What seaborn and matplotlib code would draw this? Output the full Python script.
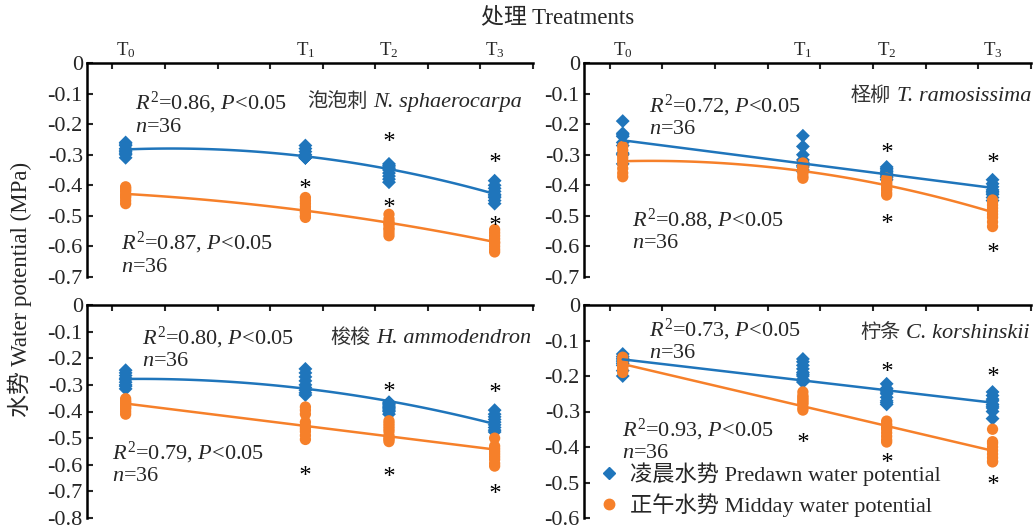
import numpy as np
import pandas as pd
import matplotlib
matplotlib.use('Agg')
import matplotlib.pyplot as plt
import seaborn as sns
from matplotlib.lines import Line2D
from matplotlib.ticker import FuncFormatter

sns.set_style('white')
plt.rcParams['font.family'] = ['Liberation Serif', 'Noto Sans CJK SC']
plt.rcParams['mathtext.fontset'] = 'custom'
plt.rcParams['mathtext.rm'] = 'Liberation Serif'
plt.rcParams['mathtext.it'] = 'Liberation Serif:italic'
plt.rcParams['mathtext.bf'] = 'Liberation Serif:bold'
plt.rcParams['axes.unicode_minus'] = False

BLUE = '#1f75bb'
ORANGE = '#f6802a'

# ---------------- data ----------------
TREATMENTS = ['T$_0$', 'T$_1$', 'T$_2$', 'T$_3$']
TREAT_X = [0.25, 3.67, 5.26, 7.27]

# N. sphaerocarpa
ns_predawn = [
    [-0.26, -0.265, -0.27, -0.28, -0.285, -0.29, -0.295, -0.30, -0.31],
    [-0.27, -0.28, -0.29, -0.30, -0.305, -0.31, -0.31, -0.31, -0.31],
    [-0.33, -0.335, -0.34, -0.345, -0.35, -0.36, -0.37, -0.38, -0.39],
    [-0.385, -0.40, -0.41, -0.42, -0.43, -0.435, -0.44, -0.45, -0.46],
]
ns_midday = [
    [-0.405, -0.41, -0.415, -0.42, -0.43, -0.435, -0.44, -0.45, -0.46],
    [-0.44, -0.45, -0.46, -0.47, -0.48, -0.485, -0.49, -0.50, -0.505],
    [-0.495, -0.51, -0.52, -0.525, -0.53, -0.54, -0.545, -0.555, -0.565],
    [-0.545, -0.555, -0.565, -0.575, -0.585, -0.59, -0.60, -0.61, -0.618],
]
# T. ramosissima
tr_predawn = [
    [-0.19, -0.23, -0.235, -0.24, -0.26, -0.27, -0.295, -0.30, -0.33],
    [-0.238, -0.273, -0.30, -0.317, -0.325, -0.335, -0.34, -0.35, -0.355],
    [-0.34, -0.345, -0.35, -0.355, -0.36, -0.365, -0.37, -0.375, -0.382],
    [-0.382, -0.395, -0.405, -0.415, -0.42, -0.425, -0.43, -0.44, -0.45],
]
tr_midday = [
    [-0.273, -0.285, -0.30, -0.31, -0.32, -0.33, -0.345, -0.36, -0.372],
    [-0.327, -0.335, -0.34, -0.345, -0.35, -0.355, -0.36, -0.37, -0.377],
    [-0.377, -0.385, -0.39, -0.395, -0.40, -0.41, -0.415, -0.425, -0.432],
    [-0.448, -0.455, -0.465, -0.475, -0.485, -0.495, -0.505, -0.52, -0.535],
]
# H. ammodendron
ha_predawn = [
    [-0.245, -0.255, -0.265, -0.275, -0.28, -0.29, -0.30, -0.305, -0.315],
    [-0.24, -0.255, -0.27, -0.285, -0.30, -0.31, -0.32, -0.33, -0.338],
    [-0.365, -0.37, -0.375, -0.38, -0.385, -0.39, -0.395, -0.40, -0.41],
    [-0.395, -0.41, -0.42, -0.43, -0.44, -0.45, -0.46, -0.47, -0.477],
]
ha_midday = [
    [-0.352, -0.36, -0.365, -0.37, -0.38, -0.385, -0.39, -0.40, -0.41],
    [-0.383, -0.395, -0.41, -0.44, -0.455, -0.465, -0.475, -0.49, -0.505],
    [-0.435, -0.445, -0.455, -0.465, -0.475, -0.49, -0.50, -0.505, -0.513],
    [-0.50, -0.53, -0.54, -0.55, -0.56, -0.57, -0.58, -0.595, -0.605],
]
# C. korshinskii
ck_predawn = [
    [-0.138, -0.145, -0.15, -0.155, -0.16, -0.165, -0.17, -0.185, -0.20],
    [-0.152, -0.16, -0.17, -0.18, -0.19, -0.195, -0.20, -0.21, -0.217],
    [-0.222, -0.235, -0.24, -0.245, -0.25, -0.26, -0.27, -0.275, -0.28],
    [-0.245, -0.255, -0.265, -0.27, -0.28, -0.285, -0.29, -0.30, -0.32],
]
ck_midday = [
    [-0.147, -0.155, -0.16, -0.165, -0.17, -0.175, -0.18, -0.185, -0.19],
    [-0.245, -0.255, -0.26, -0.265, -0.27, -0.275, -0.28, -0.29, -0.296],
    [-0.327, -0.335, -0.34, -0.345, -0.35, -0.36, -0.37, -0.38, -0.386],
    [-0.35, -0.385, -0.39, -0.40, -0.41, -0.42, -0.43, -0.44, -0.442],
]

# significance asterisks: (treatment index, y)
ns_sig_t = [1, 2, 2, 3, 3]
ns_sig_y = [-0.391, -0.24, -0.456, -0.306, -0.513]
tr_sig_t = [2, 2, 3, 3]
tr_sig_y = [-0.275, -0.508, -0.306, -0.603]
ha_sig_t = [1, 2, 2, 3, 3]
ha_sig_y = [-0.62, -0.306, -0.625, -0.307, -0.686]
ck_sig_t = [1, 2, 2, 3, 3]
ck_sig_y = [-0.371, -0.172, -0.427, -0.185, -0.491]

species_zh = ['泡泡刺', '柽柳', '梭梭', '柠条']
species_lat = ['N. sphaerocarpa', 'T. ramosissima', 'H. ammodendron', 'C. korshinskii']
r2_predawn = ['0.86', '0.72', '0.80', '0.73']
r2_midday = ['0.87', '0.88', '0.79', '0.93']
n_obs = 36
fit_order_predawn = [2, 1, 2, 1]
fit_order_midday = [2, 2, 1, 1]
y_min = [-0.7, -0.7, -0.8, -0.6]

legend_labels = ['凌晨水势 Predawn water potential', '正午水势 Midday water potential']
xlabel = '处理 Treatments'
ylabel = '水势 Water potential (MPa)'

predawn_all = [ns_predawn, tr_predawn, ha_predawn, ck_predawn]
midday_all = [ns_midday, tr_midday, ha_midday, ck_midday]
sig_t_all = [ns_sig_t, tr_sig_t, ha_sig_t, ck_sig_t]
sig_y_all = [ns_sig_y, tr_sig_y, ha_sig_y, ck_sig_y]

# ---------------- layout ----------------
W, H = 1033, 528
fig = plt.figure(figsize=(W / 100, H / 100), dpi=100)
rects = [
    [87, 63, 533, 277],
    [584, 63, 1031, 277],
    [87, 305, 533, 518],
    [584, 305, 1031, 518],
]
txt_pd = [(0.43, -0.130), (0.75, -0.140), (0.56, -0.124), (0.75, -0.070)]
txt_md = [(0.17, -0.588), (0.42, -0.513), (0.00, -0.555), (0.23, -0.352)]
n_gap = [0.082, 0.076, 0.090, 0.066]
txt_sp = [(3.70, -0.130, 'left'), (8.0, -0.108, 'right'),
          (4.15, -0.124, 'left'), (7.98, -0.079, 'right')]

FS = 16
for i in range(4):
    x0, y0, x1, y1 = rects[i]
    ax = fig.add_axes([x0 / W, 1 - y1 / H, (x1 - x0) / W, (y1 - y0) / H])
    xs_pd, ys_pd, xs_md, ys_md = [], [], [], []
    for t in range(4):
        for v in predawn_all[i][t]:
            xs_pd.append(TREAT_X[t]); ys_pd.append(v)
        for v in midday_all[i][t]:
            xs_md.append(TREAT_X[t]); ys_md.append(v)
    df_pd = pd.DataFrame({'x': xs_pd, 'y': ys_pd})
    df_md = pd.DataFrame({'x': xs_md, 'y': ys_md})

    sns.scatterplot(data=df_pd, x='x', y='y', marker='D', color=BLUE, s=50,
                    edgecolor='none', linewidth=0, ax=ax, legend=False, zorder=2)
    sns.scatterplot(data=df_md, x='x', y='y', marker='o', color=ORANGE, s=66,
                    edgecolor='none', linewidth=0, ax=ax, legend=False, zorder=2)
    sns.regplot(data=df_pd, x='x', y='y', order=fit_order_predawn[i], ci=None,
                scatter=False, ax=ax, color=BLUE, truncate=True,
                line_kws=dict(lw=1.8, zorder=3))
    sns.regplot(data=df_md, x='x', y='y', order=fit_order_midday[i], ci=None,
                scatter=False, ax=ax, color=ORANGE, truncate=True,
                line_kws=dict(lw=1.8, zorder=3))
    ax.scatter([TREAT_X[t] for t in sig_t_all[i]], sig_y_all[i], marker='$*$',
               s=50, c='k', linewidths=0, zorder=4)

    ax.set_xlim(-0.485, 8.0)
    ax.set_ylim(y_min[i], 0)
    ax.set_xlabel('')
    ax.set_ylabel('')
    for s in ['right', 'bottom']:
        ax.spines[s].set_visible(False)
    for s in ['left', 'top']:
        ax.spines[s].set_linewidth(1.8)
        ax.spines[s].set_color('black')
    ax.set_xticks(np.arange(0, 9))
    ax.set_xticks(TREAT_X, labels=TREATMENTS, minor=True)
    ax.tick_params(axis='x', which='major', top=True, bottom=False, labeltop=False,
                   labelbottom=False, direction='in', length=4, width=1.5)
    ax.tick_params(axis='x', which='minor', top=True, bottom=False, labeltop=(i < 2),
                   labelbottom=False, length=0, pad=2, labelsize=13.5)
    yt = np.round(np.arange(0, y_min[i] - 0.01, -0.1), 1)
    ax.set_yticks(yt)
    ax.yaxis.set_major_formatter(FuncFormatter(lambda v, p: '0' if abs(v) < 1e-9 else f'{v:.1f}'))
    ax.tick_params(axis='y', which='major', left=True, direction='in', length=4,
                   width=1.5, labelsize=FS, pad=3)
    ax.set_facecolor('none')

    xp, yp = txt_pd[i]
    ax.text(xp, yp, r'$R^2$=' + r2_predawn[i] + r', $P$<0.05', fontsize=FS, va='center', ha='left')
    ax.text(xp, yp - n_gap[i], r'$n$=' + str(n_obs), fontsize=FS, va='center', ha='left')
    xm, ym = txt_md[i]
    ax.text(xm, ym, r'$R^2$=' + r2_midday[i] + r', $P$<0.05', fontsize=FS, va='center', ha='left')
    ax.text(xm, ym - n_gap[i], r'$n$=' + str(n_obs), fontsize=FS, va='center', ha='left')
    xs, ys, al = txt_sp[i]
    if al == 'left':
        t1 = ax.text(xs, ys, species_zh[i], fontsize=14.5, va='center', ha='left', color='#333333')
        ax.annotate(species_lat[i], xy=(1, 0), xycoords=t1, xytext=(4, 0),
                    textcoords='offset points', ha='left', va='bottom',
                    fontsize=FS, fontstyle='italic')
    else:
        t1 = ax.text(xs, ys, species_lat[i], fontsize=FS, va='center', ha='right',
                     fontstyle='italic')
        ax.annotate(species_zh[i], xy=(0, 0), xycoords=t1, xytext=(-4, 0),
                    textcoords='offset points', ha='right', va='bottom',
                    fontsize=14.5, color='#333333')
    if i == 3:
        handles = [Line2D([], [], marker='D', color=BLUE, ls='none', markersize=6.5),
                   Line2D([], [], marker='o', color=ORANGE, ls='none', markersize=7.5)]
        ax.legend(handles, legend_labels, loc='upper left', bbox_to_anchor=(0.03, 0.26),
                  frameon=False, fontsize=FS, handlelength=1.0, handletextpad=0.45,
                  labelspacing=0.3, borderpad=0.0, borderaxespad=0.0)

fig.text(558 / W, 1 - 18 / H, xlabel, ha='center', va='center', fontsize=16.5)
fig.text(20 / W, 1 - 289 / H, ylabel, ha='center', va='center', rotation=90, fontsize=16.5)

fig.savefig('out.png', dpi=100)
